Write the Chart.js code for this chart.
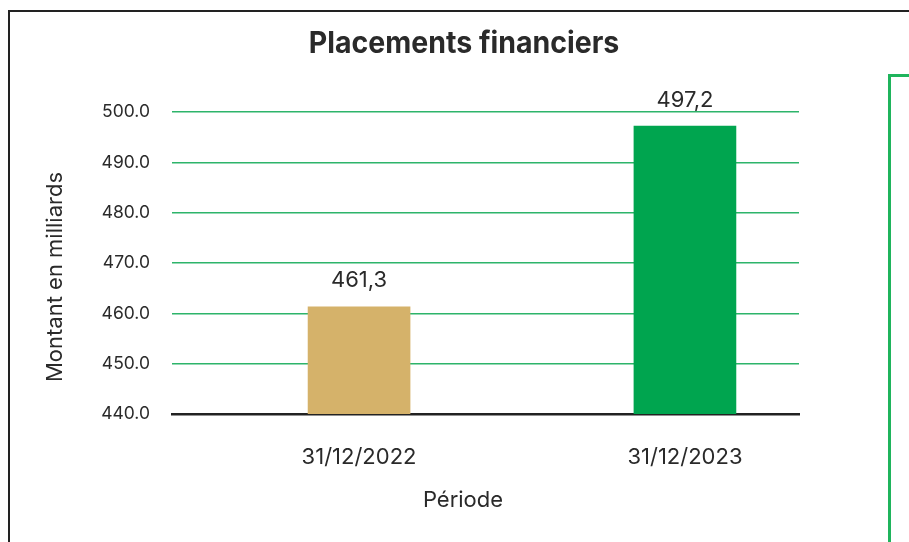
<!DOCTYPE html>
<html lang="fr">
<head>
<meta charset="utf-8">
<title>Placements financiers</title>
<script src="https://cdn.jsdelivr.net/npm/chart.js@4.4.1/dist/chart.umd.min.js"></script>
<style>
    html, body {
        margin: 0;
        padding: 0;
        width: 909px;
        height: 542px;
        overflow: hidden;
        background: #ffffff;
    }
    #cadre {
        position: absolute;
        left: 8px;
        top: 10px;
        width: 960px;
        height: 600px;
        border: 2.5px solid #222222;
    }
    #encart {
        position: absolute;
        left: 888px;
        top: 74px;
        width: 100px;
        height: 600px;
        border: 3px solid #1fb45c;
    }
    #zone {
        position: absolute;
        left: 0;
        top: 0;
        width: 909px;
        height: 542px;
    }
</style>
</head>
<body>
<div id="cadre"></div>
<div id="encart"></div>
<div id="zone"><canvas id="GraphiquePlacements"></canvas></div>

<script>
// --- Données ---
const periodes = ['31/12/2022', '31/12/2023'];
const montants = [461.3, 497.2];
const couleursBarres = ['#d5b26a', '#00a54f'];
const graduationsY = [440, 450, 460, 470, 480, 490, 500];

const titreGraphique = 'Placements financiers';
const titreAxeX = 'Période';
const titreAxeY = 'Montant en milliards';

const police = 'Inter, "DejaVu Sans", sans-serif';
const couleurTexte = '#2a2a2a';

// Étiquettes de valeur + titres placés à la main
const pluginTextes = {
    id: 'textesPlacements',
    afterDatasetsDraw(chart) {
        const ctx = chart.ctx;
        const meta = chart.getDatasetMeta(0);
        ctx.save();
        ctx.fillStyle = couleurTexte;
        ctx.textAlign = 'center';
        ctx.textBaseline = 'middle';
        ctx.font = '22px ' + police;
        meta.data.forEach((barre, i) => {
            const texte = montants[i].toFixed(1).replace('.', ',');
            ctx.fillText(texte, barre.x, barre.y - 26);
        });
        ctx.restore();
    },
    afterDraw(chart) {
        const ctx = chart.ctx;
        ctx.save();
        ctx.fillStyle = couleurTexte;
        ctx.textAlign = 'center';
        ctx.textBaseline = 'middle';

        // titre
        ctx.save();
        ctx.translate(464, 44);
        ctx.scale(0.95, 1);
        ctx.font = 'bold 30px ' + police;
        ctx.fillText(titreGraphique, 0, 0);
        ctx.restore();

        // titre axe X
        ctx.font = '22px ' + police;
        ctx.fillText(titreAxeX, 463, 500);

        // titre axe Y
        ctx.save();
        ctx.translate(55, 277);
        ctx.rotate(-Math.PI / 2);
        ctx.fillText(titreAxeY, 0, 0);
        ctx.restore();

        ctx.restore();
    }
};

const ctx = document.getElementById('GraphiquePlacements').getContext('2d');

const monGraphique = new Chart(ctx, {
    type: 'bar',
    data: {
        datasets: [{
            label: titreGraphique,
            data: montants.map((v, i) => ({ x: i, y: v })),
            backgroundColor: couleursBarres,
            borderWidth: 0,
            barThickness: 102
        }]
    },
    options: {
        responsive: true,
        maintainAspectRatio: false,
        animation: false,
        layout: {
            padding: { top: 112, right: 110, bottom: 0, left: 0 }
        },
        plugins: {
            legend: { display: false },
            title: { display: false },
            tooltip: { enabled: false }
        },
        scales: {
            x: {
                type: 'linear',
                offset: false,
                min: -0.574,
                max: 1.35,
                afterBuildTicks: (scale) => {
                    scale.ticks = periodes.map((p, i) => ({ value: i }));
                },
                afterFit: (scale) => { scale.height = 128; },
                ticks: {
                    callback: (valeur) => periodes[valeur],
                    color: couleurTexte,
                    font: { family: police, size: 22 },
                    padding: 30,
                    maxRotation: 0
                },
                grid: { display: false, drawTicks: false },
                border: { display: true, color: '#222222', width: 2.5 }
            },
            y: {
                min: 440,
                max: 500,
                afterBuildTicks: (scale) => {
                    scale.ticks = graduationsY.map((v) => ({ value: v }));
                },
                afterFit: (scale) => { scale.width = 172; },
                ticks: {
                    callback: (valeur) => valeur.toFixed(1),
                    color: couleurTexte,
                    font: { family: police, size: 17.5 },
                    padding: 22
                },
                grid: {
                    color: (c) => c.tick && c.tick.value === 440 ? 'rgba(0,0,0,0)' : '#2db46a',
                    lineWidth: 1.5,
                    drawTicks: false
                },
                border: { display: false }
            }
        }
    },
    plugins: [pluginTextes]
});
</script>
</body>
</html>
